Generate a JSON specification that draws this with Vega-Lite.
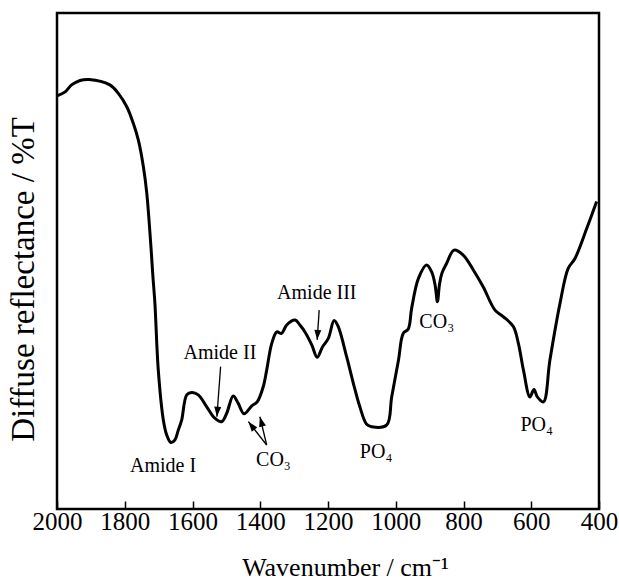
{
  "$schema": "https://vega.github.io/schema/vega-lite/v6.json",
  "width": 542,
  "height": 496,
  "autosize": "none",
  "padding": {"left": 57, "top": 13, "right": 20, "bottom": 71},
  "background": "white",
  "config": {
    "view": {"stroke": "black", "strokeWidth": 2.5},
    "font": "Liberation Serif",
    "axis": {"grid": false}
  },
  "datasets": {
    "spectrum": [
      {"wn": 2000, "v": 83.3}, {"wn": 1976, "v": 84.1}, {"wn": 1957, "v": 85.5}, {"wn": 1932, "v": 86.4},
      {"wn": 1905, "v": 86.6}, {"wn": 1844, "v": 85.5}, {"wn": 1819, "v": 83.8}, {"wn": 1794, "v": 81.1},
      {"wn": 1775, "v": 77.8}, {"wn": 1760, "v": 74.4}, {"wn": 1745, "v": 69.0}, {"wn": 1735, "v": 63.7},
      {"wn": 1722, "v": 52.2}, {"wn": 1717, "v": 47.0}, {"wn": 1711, "v": 41.5}, {"wn": 1701, "v": 28.0},
      {"wn": 1686, "v": 17.9}, {"wn": 1676, "v": 14.9}, {"wn": 1664, "v": 13.4}, {"wn": 1652, "v": 13.9},
      {"wn": 1642, "v": 15.9}, {"wn": 1632, "v": 17.9}, {"wn": 1617, "v": 23.0}, {"wn": 1602, "v": 23.5},
      {"wn": 1583, "v": 23.0}, {"wn": 1558, "v": 20.6}, {"wn": 1534, "v": 18.3}, {"wn": 1514, "v": 17.6},
      {"wn": 1499, "v": 19.3}, {"wn": 1480, "v": 22.8}, {"wn": 1465, "v": 21.3}, {"wn": 1448, "v": 19.2},
      {"wn": 1425, "v": 20.8}, {"wn": 1409, "v": 21.6}, {"wn": 1391, "v": 24.7}, {"wn": 1381, "v": 28.0},
      {"wn": 1366, "v": 33.4}, {"wn": 1351, "v": 35.7}, {"wn": 1337, "v": 35.4}, {"wn": 1322, "v": 37.1},
      {"wn": 1297, "v": 38.1}, {"wn": 1283, "v": 37.1}, {"wn": 1268, "v": 35.7}, {"wn": 1248, "v": 33.1},
      {"wn": 1232, "v": 30.6}, {"wn": 1216, "v": 32.7}, {"wn": 1199, "v": 34.4}, {"wn": 1182, "v": 38.0},
      {"wn": 1170, "v": 36.8}, {"wn": 1145, "v": 30.7}, {"wn": 1125, "v": 25.3}, {"wn": 1106, "v": 20.6},
      {"wn": 1086, "v": 17.1}, {"wn": 1071, "v": 16.6}, {"wn": 1027, "v": 16.9}, {"wn": 1012, "v": 22.6},
      {"wn": 992, "v": 30.0}, {"wn": 978, "v": 35.4}, {"wn": 963, "v": 36.3}, {"wn": 953, "v": 40.5},
      {"wn": 933, "v": 46.5}, {"wn": 909, "v": 49.2}, {"wn": 894, "v": 47.8}, {"wn": 884, "v": 45.2},
      {"wn": 877, "v": 41.8}, {"wn": 871, "v": 45.2}, {"wn": 864, "v": 47.5}, {"wn": 850, "v": 49.5},
      {"wn": 828, "v": 52.2}, {"wn": 801, "v": 51.2}, {"wn": 771, "v": 48.2}, {"wn": 742, "v": 44.8},
      {"wn": 707, "v": 40.1}, {"wn": 683, "v": 38.8}, {"wn": 653, "v": 36.8}, {"wn": 638, "v": 33.4},
      {"wn": 623, "v": 28.0}, {"wn": 604, "v": 22.6}, {"wn": 592, "v": 24.1}, {"wn": 582, "v": 22.6},
      {"wn": 564, "v": 21.6}, {"wn": 545, "v": 30.0}, {"wn": 515, "v": 41.5}, {"wn": 491, "v": 48.5},
      {"wn": 471, "v": 50.5}, {"wn": 436, "v": 56.6}, {"wn": 407, "v": 62.0}
    ],
    "labels": [
      {"label": "Amide I", "wn": 1687, "v": 8.7},
      {"label": "Amide II", "wn": 1519, "v": 31.5},
      {"label": "Amide III", "wn": 1233, "v": 43.5},
      {"label": "CO₃", "wn": 1361, "v": 9.9},
      {"label": "PO₄", "wn": 1058, "v": 11.5},
      {"label": "CO₃", "wn": 879, "v": 37.8},
      {"label": "PO₄", "wn": 584, "v": 16.9}
    ],
    "arrows": [
      {"id": "a2", "wn": 1517, "v": 28.7, "wn2": 1528, "v2": 18.6},
      {"id": "a3", "wn": 1226, "v": 40.1, "wn2": 1232, "v2": 34.1},
      {"id": "c1", "wn": 1381, "v": 12.9, "wn2": 1435, "v2": 17.6},
      {"id": "c2", "wn": 1381, "v": 12.9, "wn2": 1401, "v2": 18.6}
    ]
  },
  "encoding": {
    "x": {
      "field": "wn", "type": "quantitative",
      "scale": {"domain": [400, 2000], "reverse": true, "nice": false, "zero": false},
      "axis": {
        "title": "Wavenumber / cm⁻¹",
        "values": [2000, 1800, 1600, 1400, 1200, 1000, 800, 600, 400],
        "format": "d",
        "domain": false,
        "tickSize": -8, "tickWidth": 1.5, "tickColor": "black",
        "labelFontSize": 25, "labelColor": "black", "labelPadding": 8,
        "labelFont": "Liberation Serif",
        "labelFlush": false, "labelOverlap": false,
        "titleFont": "Liberation Serif", "titleFontSize": 26, "titleFontWeight": "normal",
        "titleColor": "black", "titleBaseline": "alphabetic", "titleY": 66, "titleX": 288
      }
    },
    "y": {
      "field": "v", "type": "quantitative",
      "scale": {"domain": [0, 100], "nice": false},
      "axis": {
        "title": "Diffuse reflectance / %T",
        "domain": false, "ticks": false, "labels": false,
        "titleFont": "Liberation Serif", "titleFontSize": 33, "titleFontWeight": "normal",
        "titleColor": "black", "titleBaseline": "alphabetic", "titleX": -24, "titleY": 266
      }
    }
  },
  "layer": [
    {
      "data": {"name": "spectrum"},
      "mark": {"type": "line", "color": "black", "strokeWidth": 3, "interpolate": "catmull-rom"}
    },
    {
      "data": {"name": "labels"},
      "mark": {"type": "text", "font": "Liberation Serif", "fontSize": 20, "color": "black", "align": "center", "baseline": "middle"},
      "encoding": {"text": {"field": "label"}}
    },
    {
      "data": {"name": "arrows"},
      "mark": {"type": "rule", "color": "black", "strokeWidth": 1.3},
      "encoding": {
        "x2": {"field": "wn2"},
        "y2": {"field": "v2"}
      }
    },
    {
      "data": {"name": "arrows"},
      "transform": [{"filter": "datum.id === 'a2'"}],
      "mark": {"type": "point", "filled": true, "color": "black", "opacity": 1, "size": 400, "angle": 185, "shape": "M0,0 L-0.35,1 L0.35,1 Z"},
      "encoding": {"x": {"field": "wn2", "type": "quantitative"}, "y": {"field": "v2", "type": "quantitative"}}
    },
    {
      "data": {"name": "arrows"},
      "transform": [{"filter": "datum.id === 'a3'"}],
      "mark": {"type": "point", "filled": true, "color": "black", "opacity": 1, "size": 400, "angle": 184, "shape": "M0,0 L-0.35,1 L0.35,1 Z"},
      "encoding": {"x": {"field": "wn2", "type": "quantitative"}, "y": {"field": "v2", "type": "quantitative"}}
    },
    {
      "data": {"name": "arrows"},
      "transform": [{"filter": "datum.id === 'c1'"}],
      "mark": {"type": "point", "filled": true, "color": "black", "opacity": 1, "size": 400, "angle": 322, "shape": "M0,0 L-0.35,1 L0.35,1 Z"},
      "encoding": {"x": {"field": "wn2", "type": "quantitative"}, "y": {"field": "v2", "type": "quantitative"}}
    },
    {
      "data": {"name": "arrows"},
      "transform": [{"filter": "datum.id === 'c2'"}],
      "mark": {"type": "point", "filled": true, "color": "black", "opacity": 1, "size": 400, "angle": 345, "shape": "M0,0 L-0.35,1 L0.35,1 Z"},
      "encoding": {"x": {"field": "wn2", "type": "quantitative"}, "y": {"field": "v2", "type": "quantitative"}}
    }
  ]
}
